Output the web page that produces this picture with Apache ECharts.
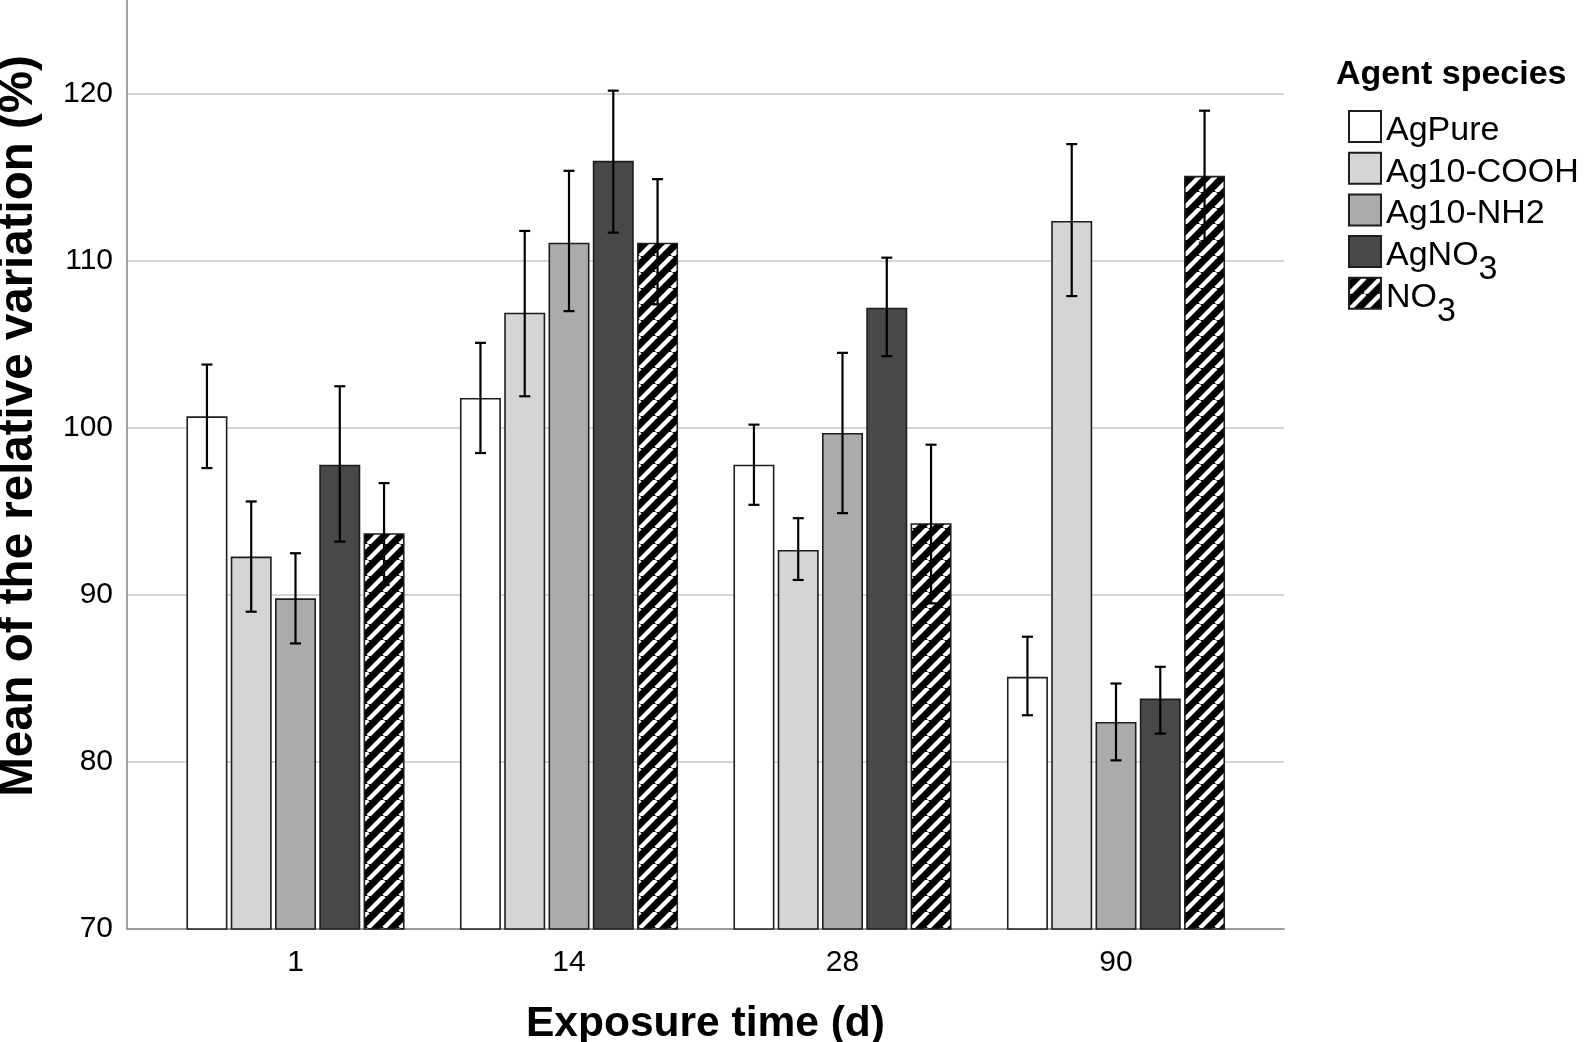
<!DOCTYPE html>
<html><head><meta charset="utf-8">
<script src="https://cdn.jsdelivr.net/npm/echarts@6/dist/echarts.min.js"></script>
<style>html,body{margin:0;padding:0;background:#fff}#c{width:1595px;height:1042px}</style>
</head><body><div id="c"></div>
<script>
// ---- data ----
const categories = ['1', '14', '28', '90'];
const seriesNames = ['AgPure', 'Ag10-COOH', 'Ag10-NH2', 'AgNO3', 'NO3'];
const agPure   = [100.7, 101.8, 97.8, 85.1];
const ag10COOH = [92.3, 106.9, 92.7, 112.4];
const ag10NH2  = [89.8, 111.1, 99.7, 82.4];
const agNO3    = [97.8, 116.0, 107.2, 83.8];
const no3      = [93.7, 111.1, 94.3, 115.1];
const agPureLow   = [97.6, 98.5, 95.4, 82.8];
const agPureHigh  = [103.8, 105.1, 100.2, 87.5];
const ag10COOHLow  = [89.0, 101.9, 90.9, 107.9];
const ag10COOHHigh = [95.6, 111.8, 94.6, 117.0];
const ag10NH2Low   = [87.1, 107.0, 94.9, 80.1];
const ag10NH2High  = [92.5, 115.4, 104.5, 84.7];
const agNO3Low     = [93.2, 111.7, 104.3, 81.7];
const agNO3High    = [102.5, 120.2, 110.2, 85.7];
const no3Low       = [90.6, 107.4, 89.5, 111.1];
const no3High      = [96.7, 114.9, 99.0, 119.0];
const yTicks = [70, 80, 90, 100, 110, 120];

// ---- styling ----
const FONT = 'Liberation Sans, Arial, sans-serif';
const BAR_W = 41;
const GAP_RATIO = 0.08;
const STEP = BAR_W * (1 + GAP_RATIO);

function hatch() {
  const T = 16, c = document.createElement('canvas');
  c.width = T; c.height = T;
  const g = c.getContext('2d');
  g.fillStyle = '#000'; g.fillRect(0, 0, T, T);
  g.strokeStyle = '#fff'; g.lineWidth = 4.4;
  for (const k of [-1, 0, 1]) {
    g.beginPath(); g.moveTo(k * T, T); g.lineTo(k * T + T, 0); g.stroke();
  }
  return c;
}

const values = [agPure, ag10COOH, ag10NH2, agNO3, no3];
const lows = [agPureLow, ag10COOHLow, ag10NH2Low, agNO3Low, no3Low];
const highs = [agPureHigh, ag10COOHHigh, ag10NH2High, agNO3High, no3High];
const fills = ['#ffffff', '#d5d5d5', '#ababab', '#484848', { image: hatch(), repeat: 'repeat' }];

const barSeries = seriesNames.map((n, i) => ({
  name: n, type: 'bar', xAxisIndex: 1, yAxisIndex: 1,
  barWidth: BAR_W, barGap: (GAP_RATIO * 100) + '%',
  data: values[i],
  itemStyle: { color: fills[i], borderColor: '#1e1e1e', borderWidth: 1.6 },
  emphasis: { disabled: true }, z: 2
}));

const errData = [];
seriesNames.forEach((n, s) => {
  categories.forEach((c, k) => errData.push([k, lows[s][k], highs[s][k], s]));
});

const errSeries = {
  type: 'custom', xAxisIndex: 1, yAxisIndex: 1, z: 10, silent: true,
  encode: { x: 0, y: [1, 2] },
  data: errData,
  renderItem: (params, api) => {
    const k = api.value(0), lo = api.value(1), hi = api.value(2), s = api.value(3);
    const pLo = api.coord([k, lo]), pHi = api.coord([k, hi]);
    const x = pLo[0] + (s - 2) * STEP;
    const cw = 5.5;
    const st = { stroke: '#000', lineWidth: 2.2 };
    return { type: 'group', children: [
      { type: 'line', shape: { x1: x, y1: pLo[1], x2: x, y2: pHi[1] }, style: st },
      { type: 'line', shape: { x1: x - cw, y1: pLo[1], x2: x + cw, y2: pLo[1] }, style: st },
      { type: 'line', shape: { x1: x - cw, y1: pHi[1], x2: x + cw, y2: pHi[1] }, style: st }
    ]};
  }
};

const LEG_FS = 34;
const MAIN_PAD = 8;
const SUB_PAD = 36;
const ITEM_H = 31;
const PITCH = 41.7;
const TEXT_H = LEG_FS + SUB_PAD;

const chart = echarts.init(document.getElementById('c'), null, { renderer: 'canvas' });
chart.setOption({
  backgroundColor: '#fff',
  animation: false,
  textStyle: { fontFamily: FONT },
  title: {
    text: 'Agent species', left: 1336, top: 58, padding: 0,
    textStyle: { fontSize: 34, fontWeight: 'bold', color: '#000', fontFamily: FONT }
  },
  legend: {
    data: seriesNames, orient: 'vertical', left: 1348, top: 111 - (TEXT_H - ITEM_H) / 2, padding: 0,
    itemWidth: 32, itemHeight: ITEM_H, itemGap: PITCH - TEXT_H, icon: 'rect', selectedMode: false,
    formatter: n => /NO3$/.test(n) ? '{m|' + n.slice(0, -1) + '}{s|3}' : '{m|' + n + '}{s| }',
    textStyle: {
      fontSize: LEG_FS, lineHeight: LEG_FS, color: '#000', fontFamily: FONT,
      rich: {
        m: { fontSize: LEG_FS, lineHeight: LEG_FS, color: '#000', fontFamily: FONT, padding: [MAIN_PAD, 0, 0, 0] },
        s: { fontSize: LEG_FS, lineHeight: LEG_FS, color: '#000', fontFamily: FONT, padding: [SUB_PAD, 0, 0, 0] }
      }
    }
  },
  grid: [
    { left: 127, right: 311, top: -6.2, bottom: 113, outerBoundsMode: 'none', containLabel: false },
    { left: 158.75, right: 342.25, top: -6.2, bottom: 113, outerBoundsMode: 'none', containLabel: false }
  ],
  xAxis: [
    {
      gridIndex: 0, type: 'value', min: 0, max: 1,
      axisLine: { show: true, onZero: false, lineStyle: { color: '#8a8a8a', width: 1.6 } },
      axisTick: { show: false }, axisLabel: { show: false }, splitLine: { show: false },
      name: 'Exposure time (d)', nameLocation: 'middle', nameGap: 74,
      nameTextStyle: { fontSize: 42.5, fontWeight: 'bold', color: '#000', fontFamily: FONT }
    },
    {
      gridIndex: 1, type: 'category', data: categories,
      axisLine: { show: false }, axisTick: { show: false },
      axisLabel: { fontSize: 30, color: '#000', margin: 19, fontFamily: FONT }
    }
  ],
  yAxis: [
    {
      gridIndex: 0, type: 'value', min: yTicks[0], max: 126, interval: 10,
      axisLine: { show: true, onZero: false, lineStyle: { color: '#8a8a8a', width: 1.6 } },
      axisTick: { show: false },
      axisLabel: { fontSize: 30, color: '#000', margin: 14, showMaxLabel: false, padding: [10, 0, 0, 0], fontFamily: FONT,
        formatter: v => (yTicks.indexOf(v) >= 0 ? String(v) : '') },
      splitLine: { show: true, lineStyle: { color: '#c8c8c8', width: 1.5 } }
    },
    { gridIndex: 1, type: 'value', min: yTicks[0], max: 126, interval: 10, show: false, splitLine: { show: false } }
  ],
  graphic: [{
    type: 'text', x: 19, y: 426, rotation: Math.PI / 2,
    style: { text: 'Mean of the relative variation (%)', font: 'bold 47.5px ' + FONT, fill: '#000', align: 'center', verticalAlign: 'middle' }
  }],
  series: [...barSeries, errSeries]
});
</script>
</body></html>
